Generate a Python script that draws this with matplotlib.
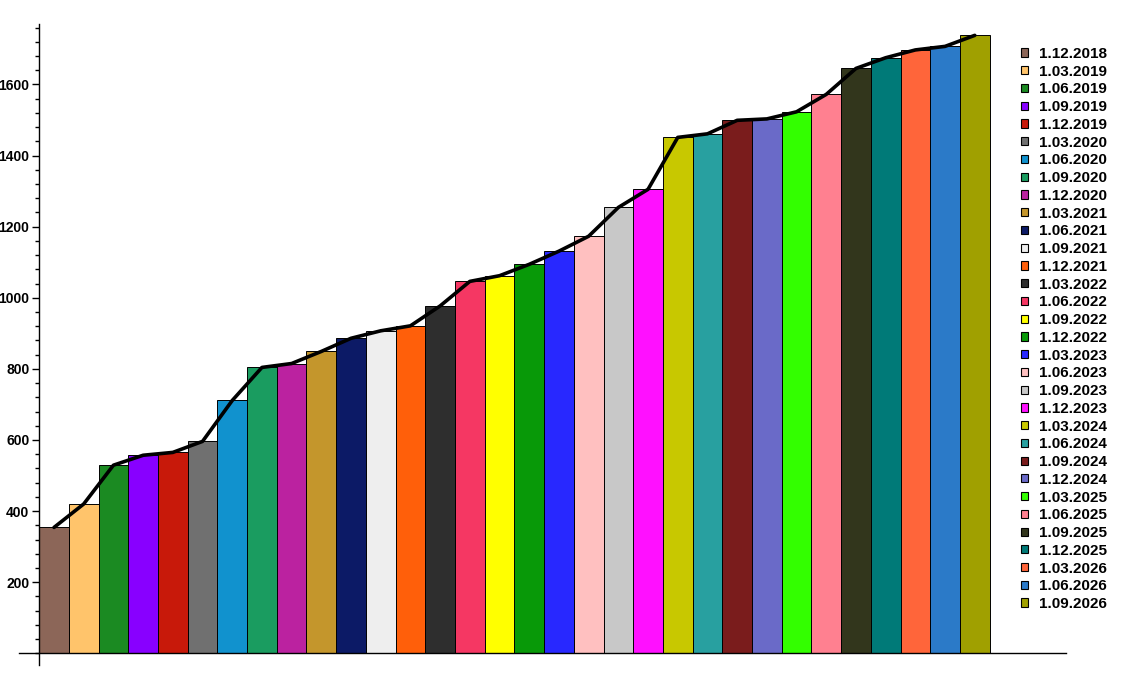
## quarterly bar chart with trend line (Maple style axes)
import matplotlib
matplotlib.use("Agg")
import matplotlib.pyplot as plt
from matplotlib.ticker import MultipleLocator
import numpy as np

##data
dates = ["1.12.2018", "1.03.2019", "1.06.2019", "1.09.2019",
         "1.12.2019", "1.03.2020", "1.06.2020", "1.09.2020",
         "1.12.2020", "1.03.2021", "1.06.2021", "1.09.2021",
         "1.12.2021", "1.03.2022", "1.06.2022", "1.09.2022",
         "1.12.2022", "1.03.2023", "1.06.2023", "1.09.2023",
         "1.12.2023", "1.03.2024", "1.06.2024", "1.09.2024",
         "1.12.2024", "1.03.2025", "1.06.2025", "1.09.2025",
         "1.12.2025", "1.03.2026", "1.06.2026", "1.09.2026"]
values = [354, 420, 529, 557, 565, 596, 711, 804,
          815, 849, 886, 907, 921, 977, 1046, 1062,
          1094, 1131, 1173, 1254, 1305, 1451, 1461, 1499,
          1503, 1523, 1572, 1645, 1675, 1697, 1707, 1738]
colours = ["#8C6658", "#FFC46B", "#1B8A22", "#8800FF", "#C8190A", "#707070",
           "#1192CE", "#1A9C60", "#BB22A0", "#C4962C", "#0C1A66", "#EEEEEE",
           "#FF5F0A", "#2E2E2E", "#F53763", "#FFFF00", "#089908", "#2828FF",
           "#FFC0C0", "#C8C8C8", "#FF10FF", "#C8C800", "#28A0A0", "#7A1C1C",
           "#6A6AC8", "#33FF00", "#FF8090", "#32361C", "#007A78", "#FF653A",
           "#2B7AC8", "#A0A000"]
y_ticks = [200, 400, 600, 800, 1000, 1200, 1400, 1600]

fig = plt.figure(figsize=(11.23, 6.89), dpi=100)
ax = fig.add_axes([0.0169, 0.0348, 0.9323, 0.9304])

x = np.arange(len(values))
bars = ax.bar(x, values, width=1.0, color=colours, edgecolor="black", linewidth=0.7)
ax.plot(x, values, color="black", linewidth=2.6, solid_joinstyle="round",
        solid_capstyle="round")

##axes crossing like maple
ax.set_xlim(-1.18, 34.07)
ax.set_ylim(-33, 1770)
ax.spines["left"].set_position(("data", -0.5))
ax.spines["bottom"].set_position(("data", 0))
ax.spines["top"].set_visible(False)
ax.spines["right"].set_visible(False)
ax.spines["left"].set_linewidth(1.0)
ax.spines["bottom"].set_linewidth(1.0)

ax.set_xticks([])
ax.set_yticks(y_ticks)
ax.yaxis.set_minor_locator(MultipleLocator(40))
ax.tick_params(axis="y", which="major", length=5, width=1, direction="out", pad=2)
ax.tick_params(axis="y", which="minor", length=3, width=1, direction="out")
for lab in ax.get_yticklabels():
    lab.set_fontfamily("Liberation Sans")
    lab.set_fontweight("bold")
    lab.set_fontsize(10)

##legend on the right
leg = ax.legend(bars, dates, loc="upper left", bbox_to_anchor=(1021 / 1123, 1 - 47 / 689),
                bbox_transform=fig.transFigure, frameon=False,
                handlelength=0.45, handleheight=0.45, handletextpad=0.75,
                labelspacing=0.245, borderpad=0, borderaxespad=0,
                prop={"family": "Liberation Sans", "size": 11, "weight": "bold"})
for h in leg.legend_handles:
    h.set_linewidth(0.8)

fig.savefig("out.png", dpi=100)
